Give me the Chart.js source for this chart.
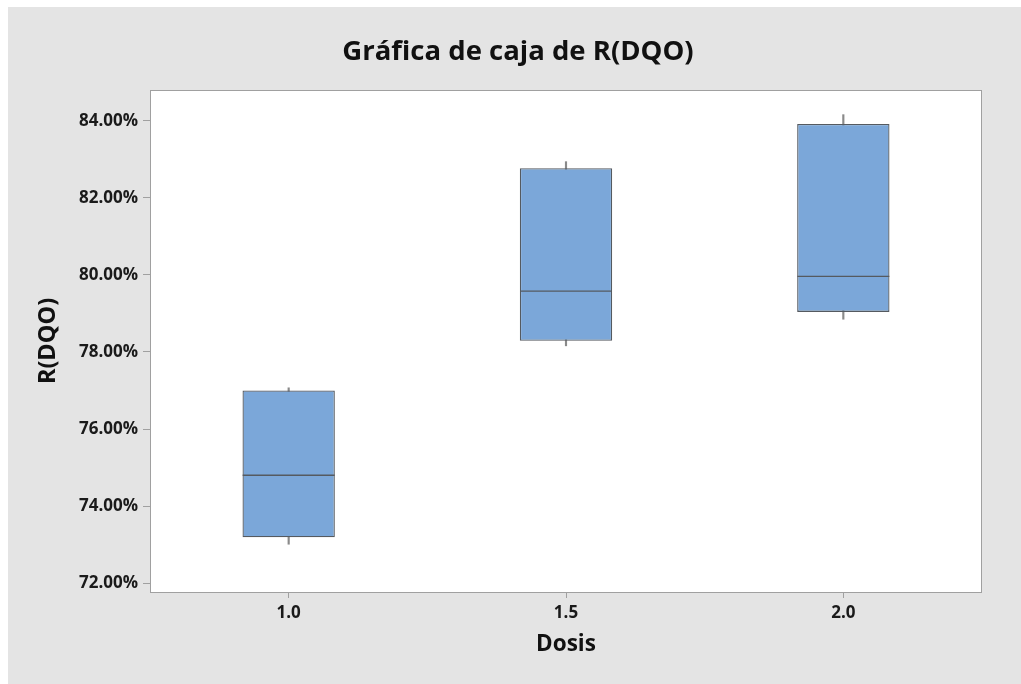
<!DOCTYPE html>
<html>
<head>
<meta charset="utf-8">
<script src="https://cdn.jsdelivr.net/npm/chart.js@4.4.1/dist/chart.umd.min.js"></script>
<style>
  html, body { margin: 0; padding: 0; background: #ffffff; }
  #wrap { width: 1021px; height: 684px; }
</style>
</head>
<body>
<div id="wrap"><canvas id="c" width="1021" height="684"></canvas></div>
<script>
// ---- data ----
const categories = [1.0, 1.5, 2.0];
const whiskerLow = [73.01, 78.16, 78.85];
const q1 = [73.19, 78.29, 79.04];
const median = [74.80, 79.58, 79.96];
const q3 = [77.00, 82.77, 83.92];
const whiskerHigh = [77.07, 82.94, 84.16];
const yTicks = [72, 74, 76, 78, 80, 82, 84];
const xTicks = [1.0, 1.5, 2.0];

const FONT = "'Open Sans', 'Noto Sans', sans-serif";

const bgPlugin = {
  id: 'bg',
  beforeDraw(chart) {
    const ctx = chart.ctx;
    ctx.save();
    ctx.fillStyle = '#ffffff';
    ctx.fillRect(0, 0, chart.width, chart.height);
    ctx.fillStyle = '#e4e4e4';
    ctx.fillRect(8, 7, chart.width - 8, chart.height - 7);
    const a = chart.chartArea;
    ctx.fillStyle = '#ffffff';
    ctx.fillRect(a.left, a.top, a.right - a.left, a.bottom - a.top);
    ctx.restore();
  },
  afterDraw(chart) {
    const ctx = chart.ctx;
    const a = chart.chartArea;
    ctx.save();
    ctx.strokeStyle = '#a0a0a0';
    ctx.lineWidth = 1;
    ctx.strokeRect(Math.round(a.left) + 0.5, Math.round(a.top) + 0.5,
                   Math.round(a.right - a.left) - 1, Math.round(a.bottom - a.top));
    ctx.restore();
  }
};

new Chart(document.getElementById('c'), {
  type: 'bar',
  data: {
    datasets: [
      {
        label: 'whisker',
        data: categories.map((c, i) => ({ x: c, y: [whiskerLow[i], whiskerHigh[i]] })),
        backgroundColor: '#8a8a8a',
        borderWidth: 0,
        barThickness: 1.5,
        grouped: false,
        order: 3
      },
      {
        label: 'box',
        data: categories.map((c, i) => ({ x: c, y: [q1[i], q3[i]] })),
        backgroundColor: '#7ba7d9',
        borderColor: '#555a60',
        borderWidth: 1.3,
        borderSkipped: false,
        categoryPercentage: 1,
        barPercentage: 0.333,
        grouped: false,
        order: 2
      },
      {
        type: 'scatter',
        label: 'median',
        data: categories.map((c, i) => ({ x: c, y: median[i] })),
        pointStyle: 'line',
        pointRadius: 46,
        pointHoverRadius: 46,
        borderColor: '#555a60',
        borderWidth: 1.3,
        order: 1
      }
    ]
  },
  options: {
    responsive: false,
    animation: false,
    devicePixelRatio: 1,
    layout: { autoPadding: false, padding: { left: 15, right: 0, top: 0, bottom: 0 } },
    plugins: {
      legend: { display: false },
      tooltip: { enabled: false },
      title: {
        display: true,
        text: 'Gráfica de caja de R(DQO)',
        color: '#111111',
        font: { family: FONT, size: 27.5, weight: 'bold', lineHeight: 1.2 },
        padding: { top: 36, bottom: 21 }
      }
    },
    scales: {
      x: {
        type: 'linear',
        min: 0.75,
        max: 2.25,
        offset: false,
        afterBuildTicks(scale) { scale.ticks = xTicks.map(v => ({ value: v })); },
        afterFit(scale) { scale.height = 92; },
        grid: { offset: false, drawOnChartArea: false, drawTicks: true, tickLength: 6, color: '#a0a0a0' },
        border: { display: false },
        ticks: {
          color: '#1a1a1a',
          padding: 5,
          font: { family: FONT, size: 17, weight: 'bold' },
          callback: v => Number(v).toFixed(1)
        },
        title: {
          display: true,
          text: 'Dosis',
          color: '#111111',
          font: { family: FONT, size: 22.5, weight: 'bold', lineHeight: 1.2 },
          padding: { top: 0, bottom: 25.5 }
        }
      },
      y: {
        min: 71.77,
        max: 84.8,
        afterBuildTicks(scale) { scale.ticks = yTicks.map(v => ({ value: v })); },
        afterFit(scale) { scale.width = 135; },
        grid: { drawOnChartArea: false, drawTicks: true, tickLength: 7, color: '#a0a0a0' },
        border: { display: false },
        ticks: {
          color: '#1a1a1a',
          padding: 5,
          font: { family: FONT, size: 17, weight: 'bold' },
          callback: v => Number(v).toFixed(2) + '%'
        },
        title: {
          display: true,
          text: 'R(DQO)',
          color: '#111111',
          font: { family: FONT, size: 23.5, weight: 'bold', lineHeight: 1.2 },
          padding: { top: 19, bottom: 0 }
        }
      },
      yRight: {
        axis: 'y',
        position: 'right',
        display: true,
        min: 71.77,
        max: 84.8,
        afterFit(scale) { scale.width = 39; },
        grid: { display: false, drawTicks: false },
        border: { display: false },
        ticks: { display: false }
      }
    }
  },
  plugins: [bgPlugin]
});
</script>
</body>
</html>
